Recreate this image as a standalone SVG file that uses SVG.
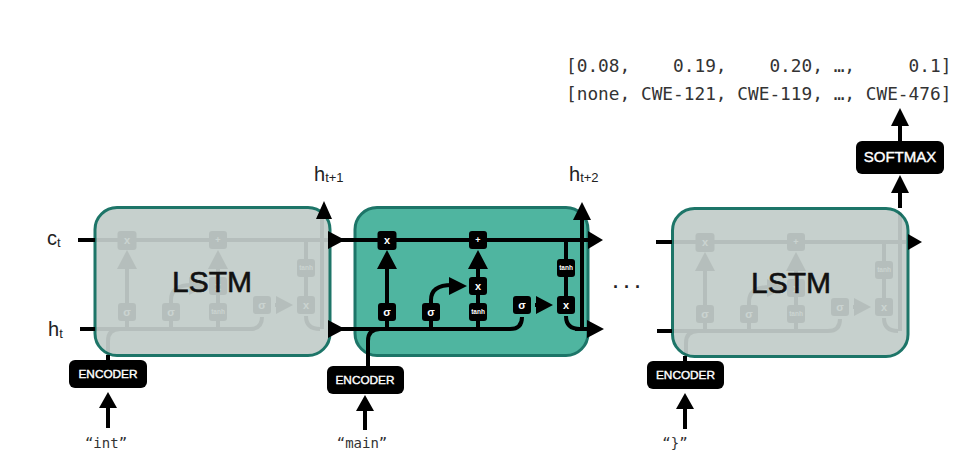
<svg xmlns="http://www.w3.org/2000/svg" width="969" height="473" viewBox="0 0 969 473">
<style>
.sans{font-family:"Liberation Sans",Arial,sans-serif}
.mono{font-family:"DejaVu Sans Mono","Liberation Mono",monospace;fill:#333;white-space:pre}
.ln{fill:none;stroke:#000;stroke-width:4}
.hd{fill:#000}
.cell{stroke:#1d7568;stroke-width:3}
.green{fill:#4fb5a0}
.gray{fill:#c6d0cd}
.op{fill:#000}
.opt{font-family:"Liberation Sans",Arial,sans-serif;fill:#fff;font-weight:bold;text-anchor:middle}
.lstm{font-family:"Liberation Sans",Arial,sans-serif;font-size:30px;fill:#111;text-anchor:middle;stroke:#111;stroke-width:.6}
.lab{font-family:"Liberation Sans",Arial,sans-serif;font-size:20px;fill:#222}
.sub{font-size:13px}
.enc{fill:#000}
.enct{font-family:"Liberation Sans",Arial,sans-serif;font-size:11.8px;fill:#fff;text-anchor:middle;stroke:#fff;stroke-width:.4}
.q{font-family:"DejaVu Sans Mono","Liberation Mono",monospace;font-size:14px;fill:#333;text-anchor:middle}
</style>
<defs>
<g id="internals">
<path class="ln" d="M355 240H588M355 329H510Q522 329 522 317M368 355V341Q368 329 380 329M566 240V305M566 316Q566 329 580 329M582 329V210M387 329V262M478 329V262M431 329V300M431 300C431 290 438 285 452 285"/>
<path class="ln" d="M535 305H540"/>
<path class="hd" d="M387 250l10 19h-20zM478 250l10 19h-20zM467 286l-18 9v-18zM553 305l-17 9v-18z"/>
<rect class="op" x="377.500" y="231" width="19" height="19" rx="3"/>
<rect class="op" x="469" y="231" width="18" height="18" rx="3"/>
<rect class="op" x="469" y="277" width="18" height="18" rx="3"/>
<rect class="op" x="378" y="303" width="18" height="18" rx="3"/>
<rect class="op" x="422" y="303" width="18" height="18" rx="3"/>
<rect class="op" x="469" y="303" width="18" height="18" rx="3"/>
<rect class="op" x="513" y="296" width="18" height="18" rx="3"/>
<rect class="op" x="557" y="296" width="18" height="18" rx="3"/>
<rect class="op" x="557" y="259" width="18" height="18" rx="3"/>
<text class="opt" x="387" y="244" font-size="11">x</text>
<text class="opt" x="478" y="243" font-size="9">+</text>
<text class="opt" x="478" y="290" font-size="11">x</text>
<text class="opt" x="387" y="316" font-size="11">σ</text>
<text class="opt" x="431" y="316" font-size="11">σ</text>
<text class="opt" x="478" y="314" font-size="6.500">tanh</text>
<text class="opt" x="522" y="309" font-size="11">σ</text>
<text class="opt" x="566" y="309" font-size="11">x</text>
<text class="opt" x="566" y="270" font-size="6.500">tanh</text>
</g>
</defs>
<rect width="969" height="473" fill="#fff"/>

<g id="output-text">
<text class="mono" x="566" y="72" font-size="17.800">[0.08,    0.19,    0.20, …,     0.1]</text>
<text class="mono" x="566" y="100" font-size="17.800">[none, CWE-121, CWE-119, …, CWE-476]</text>
</g>

<g id="lstm-left">
<rect class="cell gray" x="95" y="207.500" width="235" height="148" rx="22"/>
<use href="#internals" transform="translate(-260 0)" opacity=".08"/>
<text class="lstm" x="212" y="292">LSTM</text>
</g>
<g id="lstm-middle">
<rect class="cell green" x="355" y="207.500" width="233" height="148" rx="22"/>
<use href="#internals"/>
</g>
<g id="lstm-right">
<rect class="cell gray" x="672.500" y="208.500" width="235.500" height="148" rx="22"/>
<use href="#internals" transform="translate(318 2)" opacity=".08"/>
<text class="lstm" x="791" y="293">LSTM</text>
</g>

<g id="connectors">
<path class="ln" d="M78 240H95M80 329H95M330 240H355M330 329H355M588 240H592M575 329H590M656 242H672M657 331H672M900 208V190M900 141V125M108 428V406M365 430V408M685 429V407M108 355V360M368 355V366M685 356V361"/>
<path class="ln" d="M324 218V215"/>
<path class="hd" d="M324 201l8 18h-16zM345 240l-17 9v-18zM345 329l-17 9v-18zM603 240l-15 9v-18zM604 329l-17 9v-18zM582 202l9 18h-18zM922 242l-14 8v-16zM900 108l9 18h-18zM900 175l9 18h-18zM108 392l9 16h-18zM365 395l9 16h-18zM685 393l9 16h-18z"/>
</g>

<g id="encoder-left"><rect class="enc" x="69" y="360" width="78" height="28" rx="6"/><text class="enct" x="108" y="378">ENCODER</text></g>
<g id="encoder-middle"><rect class="enc" x="327" y="366" width="77" height="28" rx="6"/><text class="enct" x="365" y="384">ENCODER</text></g>
<g id="encoder-right"><rect class="enc" x="647" y="361" width="77" height="28" rx="6"/><text class="enct" x="685.500" y="379">ENCODER</text></g>
<g id="softmax"><rect class="enc" x="856" y="141" width="88" height="33" rx="6"/><text x="900" y="162" font-size="15" fill="#fff" text-anchor="middle" stroke="#fff" stroke-width=".4" class="sans">SOFTMAX</text></g>

<g id="labels">
<text class="lab" x="47" y="245">c<tspan class="sub" dy="2">t</tspan></text>
<text class="lab" x="48" y="336">h<tspan class="sub" dy="2">t</tspan></text>
<text class="lab" x="314" y="181">h<tspan class="sub" dy="1">t+1</tspan></text>
<text class="lab" x="569" y="181">h<tspan class="sub" dy="1">t+2</tspan></text>
<text class="q" x="106" y="448">“int”</text>
<text class="q" x="362" y="448">“main”</text>
<text class="q" x="675" y="448">“}”</text>
<text class="sans" x="627" y="293" font-size="18" font-weight="bold" fill="#222" text-anchor="middle">· · ·</text>
</g>
</svg>
